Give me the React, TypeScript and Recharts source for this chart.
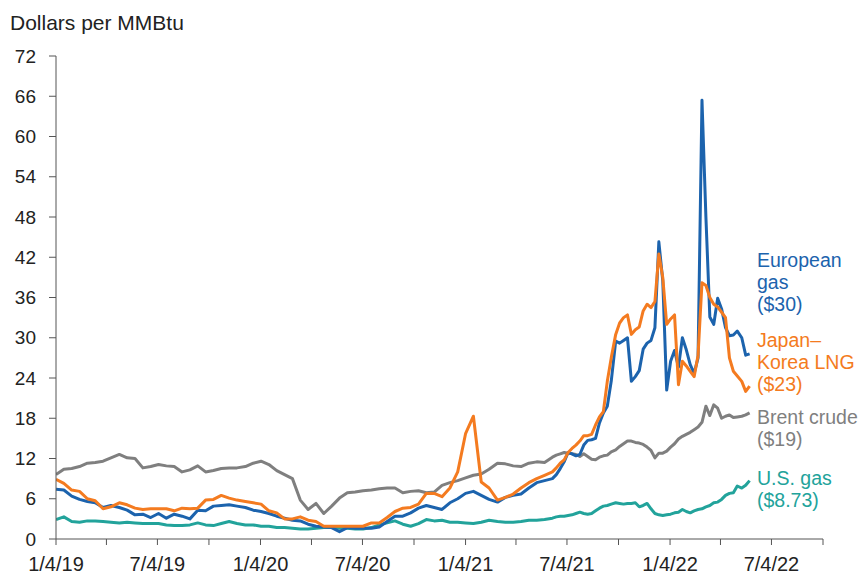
import React from "react";
import { LineChart, Line, XAxis, YAxis } from "recharts";

// days since 1/4/19 (every two weeks until Jun-21, weekly after)
const days = [
  0, 14, 28, 42, 56, 70, 84, 98, 113, 127, 141, 155, 169, 183, 197, 211, 225, 239, 253, 267, 281, 295, 309, 323,
  338, 352, 366, 380, 394, 408, 422, 436, 450, 464, 478, 492, 506, 520, 534, 548, 563, 577, 591, 605, 619, 633,
  647, 661, 675, 689, 703, 717, 731, 745, 759, 773, 788, 802, 816, 830, 844, 858, 872, 886,
  893, 900, 907, 914, 921, 928, 935, 942, 949, 956, 963, 970, 977, 984, 991, 999, 1006, 1013, 1020, 1027, 1034,
  1041, 1048, 1055, 1062, 1069, 1076, 1083, 1090, 1097, 1104, 1111, 1118, 1125, 1132, 1139, 1146, 1153, 1160,
  1167, 1174, 1181, 1188, 1195, 1202, 1209, 1216, 1224, 1231, 1238,
];

const euGas = [
  7.4, 7.3, 6.4, 5.9, 5.6, 5.4, 4.7, 5.0, 4.7, 4.3, 3.6, 3.7, 3.2, 3.8, 3.1, 3.7, 3.4, 3.0, 4.3, 4.2,
  4.9, 5.0, 5.1, 4.9, 4.7, 4.3, 4.1, 3.8, 3.4, 3.1, 2.8, 2.7, 2.2, 1.9, 1.8, 1.7, 1.1, 1.7, 1.6, 1.6,
  1.6, 1.8, 2.6, 3.4, 3.4, 3.9, 4.6, 5.0, 4.7, 4.4, 5.4, 6.0, 6.8, 7.1, 6.5, 5.9, 5.5, 6.2, 6.5, 6.7,
  7.6, 8.4, 8.7, 9.0,
  9.6, 10.5, 11.5, 12.9, 12.7, 12.4, 12.6, 14.0, 14.7, 14.8, 15.0, 17.3, 18.8, 19.8, 23.5, 29.5, 29.2,
  29.6, 30.0, 23.5, 24.2, 25.1, 28.3, 29.2, 29.6, 31.5, 44.3, 38.5, 22.2, 26.5, 28.1, 25.6, 30.0, 28.2,
  26.0, 24.7, 27.0, 65.4, 48.0, 33.1, 32.0, 35.9, 34.3, 31.5, 30.3, 30.4, 31.0, 30.0, 27.4, 27.6,
];

const jkLng = [
  8.9, 8.3, 7.3, 7.1, 6.0, 5.7, 4.5, 4.8, 5.4, 5.1, 4.6, 4.4, 4.5, 4.5, 4.5, 4.2, 4.6, 4.5, 4.6, 5.8,
  5.9, 6.5, 6.1, 5.8, 5.6, 5.4, 5.2, 4.2, 3.9, 3.0, 3.0, 3.3, 2.8, 2.6, 1.9, 1.9, 1.9, 1.9, 1.9, 1.9,
  2.4, 2.4, 3.2, 4.1, 4.6, 4.7, 5.2, 6.8, 6.8, 6.3, 7.6, 10.0, 15.7, 18.3, 8.5, 7.6, 5.8, 6.2, 6.7, 7.6,
  8.4, 9.0, 9.5, 10.0,
  10.6, 11.3, 11.8, 12.9, 13.5, 14.0, 14.6, 15.4, 15.4, 15.6, 17.0, 18.2, 19.0, 23.5, 27.0, 30.5, 32.2,
  33.0, 33.4, 30.5, 31.2, 31.6, 34.0, 35.0, 34.5, 35.4, 42.5, 39.0, 32.0, 32.8, 33.4, 23.0, 26.5, 25.8,
  25.0, 24.2, 27.4, 38.2, 37.8, 36.0, 35.0, 34.6, 33.8, 33.0, 27.0, 25.0, 24.3, 23.5, 22.0, 22.8,
];

const brent = [
  9.6, 10.4, 10.5, 10.8, 11.3, 11.4, 11.6, 12.1, 12.6, 12.1, 12.0, 10.6, 10.8, 11.1, 10.9, 10.8, 10.0,
  10.3, 10.9, 10.0, 10.2, 10.5, 10.6, 10.6, 10.8, 11.3, 11.6, 11.1, 10.2, 9.6, 9.0, 5.8, 4.4, 5.3, 3.8,
  4.9, 6.1, 6.9, 7.0, 7.2, 7.3, 7.5, 7.6, 7.6, 6.9, 7.1, 7.2, 6.9, 7.0, 8.0, 8.4, 8.7, 9.1, 9.5, 9.7,
  10.4, 11.3, 11.2, 10.9, 10.8, 11.3, 11.5, 11.4, 12.2,
  12.5, 12.7, 12.9, 12.8, 12.7, 12.6, 12.3, 12.7, 12.3, 11.9, 11.8, 12.2, 12.4, 12.5, 13.0, 13.3, 13.8,
  14.2, 14.6, 14.6, 14.4, 14.3, 14.1, 13.7, 13.2, 12.1, 12.8, 12.8, 13.1, 13.7, 14.2, 14.9, 15.3, 15.6,
  15.9, 16.3, 16.7, 17.4, 19.8, 18.4, 20.0, 19.5, 18.0, 18.3, 18.5, 18.1, 18.2, 18.3, 18.5, 18.8,
];

const usGas = [
  2.9, 3.3, 2.6, 2.5, 2.7, 2.7, 2.6, 2.5, 2.4, 2.5, 2.4, 2.3, 2.3, 2.3, 2.1, 2.0, 2.0, 2.1, 2.4, 2.1,
  2.0, 2.3, 2.6, 2.3, 2.1, 2.1, 1.9, 1.9, 1.7, 1.7, 1.6, 1.5, 1.5, 1.6, 1.7, 1.7, 1.6, 1.6, 1.5, 1.5,
  1.7, 2.1, 2.4, 2.7, 2.2, 1.9, 2.3, 2.9, 2.7, 2.8, 2.5, 2.5, 2.4, 2.3, 2.5, 2.8, 2.6, 2.5, 2.5, 2.6,
  2.8, 2.8, 2.9, 3.1,
  3.3, 3.4, 3.4, 3.5, 3.6, 3.8, 4.0, 3.8, 3.7, 3.8, 4.2, 4.6, 4.9, 5.0, 5.2, 5.4, 5.3, 5.2, 5.3, 5.3,
  5.4, 4.8, 5.0, 5.3, 4.5, 3.8, 3.6, 3.5, 3.6, 3.7, 3.9, 4.0, 4.4, 4.1, 3.9, 4.2, 4.4, 4.5, 4.8, 5.0,
  5.4, 5.5, 5.9, 6.5, 6.8, 6.9, 7.9, 7.6, 8.0, 8.7,
];

// quarterly ticks, labelled every half year
const tickDays = [0, 90, 181, 273, 365, 456, 547, 639, 731, 821, 912, 1004, 1096, 1186, 1277, 1369];
const tickLabels = ["1/4/19", "", "7/4/19", "", "1/4/20", "", "7/4/20", "", "1/4/21", "", "7/4/21", "", "1/4/22", "", "7/4/22", ""];
const yTicks = [0, 6, 12, 18, 24, 30, 36, 42, 48, 54, 60, 66, 72];

const euLabel = ["European", "gas", "($30)"];
const jkLabel = ["Japan–", "Korea LNG", "($23)"];
const brentLabel = ["Brent crude", "($19)"];
const usLabel = ["U.S. gas", "($8.73)"];

const BLUE = "#1c63ad";
const ORANGE = "#f47b20";
const GRAY = "#7f7f7f";
const TEAL = "#22a39b";
const AXIS = "#555";
const FONT = "'Liberation Sans', Arial, sans-serif";

const data = days.map((d, i) => ({
  d,
  eu: euGas[i],
  jk: jkLng[i],
  brent: brent[i],
  us: usGas[i],
}));

function SeriesLabel({ lines, color, top }: { lines: string[]; color: string; top: number }) {
  return (
    <div style={{ position: "absolute", left: 757, top, color, fontSize: 19.5, lineHeight: "22px", fontFamily: FONT }}>
      {lines.map((l) => (
        <div key={l}>{l}</div>
      ))}
    </div>
  );
}

export default function App() {
  return (
    <div style={{ position: "absolute", left: 0, top: 0, width: 861, height: 575, background: "#fff", fontFamily: FONT }}>
      <div style={{ position: "absolute", left: 10, top: 11, fontSize: 21, color: "#222" }}>Dollars per MMBtu</div>
      <LineChart width={861} height={575} data={data} margin={{ top: 56, right: 38, bottom: 0, left: 0 }}>
        <XAxis
          dataKey="d"
          type="number"
          domain={[0, 1369]}
          ticks={tickDays}
          interval={0}
          tickFormatter={(v: number) => tickLabels[tickDays.indexOf(v)] ?? ""}
          height={36}
          tickSize={6}
          tickMargin={12}
          stroke={AXIS}
          tick={{ fill: "#222", fontSize: 20, fontFamily: FONT }}
          allowDataOverflow
        />
        <YAxis
          domain={[0, 72]}
          ticks={yTicks}
          interval={0}
          width={56}
          tickSize={7}
          tickMargin={13}
          stroke={AXIS}
          tick={{ fill: "#222", fontSize: 19, fontFamily: FONT }}
        />
        <Line dataKey="us" stroke={TEAL} strokeWidth={3} dot={false} isAnimationActive={false} strokeLinejoin="round" />
        <Line dataKey="brent" stroke={GRAY} strokeWidth={3} dot={false} isAnimationActive={false} strokeLinejoin="round" />
        <Line dataKey="eu" stroke={BLUE} strokeWidth={3} dot={false} isAnimationActive={false} strokeLinejoin="round" />
        <Line dataKey="jk" stroke={ORANGE} strokeWidth={3} dot={false} isAnimationActive={false} strokeLinejoin="round" />
      </LineChart>
      <SeriesLabel lines={euLabel} color={BLUE} top={249} />
      <SeriesLabel lines={jkLabel} color={ORANGE} top={329} />
      <SeriesLabel lines={brentLabel} color={GRAY} top={406} />
      <SeriesLabel lines={usLabel} color={TEAL} top={467} />
    </div>
  );
}
